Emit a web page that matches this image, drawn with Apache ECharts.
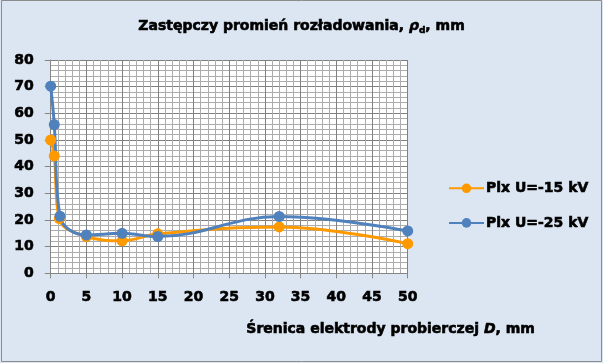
<!DOCTYPE html>
<html><head><meta charset="utf-8">
<script src="https://cdn.jsdelivr.net/npm/echarts@6/dist/echarts.min.js"></script>
<style>html,body{margin:0;padding:0;background:#dce6f2}#c{width:603px;height:363px}</style>
</head><body><div id="c"></div>
<script>
const seriesNames = ['Plx U=-15 kV', 'Plx U=-25 kV'];
const x15 = [0, 0.5, 1.2, 5, 10, 15, 32, 50];
const y15 = [50, 44, 20.5, 13.8, 12.2, 14.8, 17.4, 11.1];
const x25 = [0, 0.5, 1.3, 5, 10, 15, 32, 50];
const y25 = [70.2, 55.8, 21.4, 14.4, 15.0, 13.8, 21.3, 15.9];
const xTicks = [0, 5, 10, 15, 20, 25, 30, 35, 40, 45, 50];
const yTicks = [0, 10, 20, 30, 40, 50, 60, 70, 80];

const FONT = 'DejaVu Sans';
const HEAVY = {textBorderColor: '#000', textBorderWidth: 0.6};
const pairs = (xs, ys) => xs.map((x, i) => [x, ys[i]]);
const chart = echarts.init(document.getElementById('c'), null, {renderer: 'canvas'});
chart.setOption({
  backgroundColor: '#dce6f2',
  animation: false,
  textStyle: {fontFamily: FONT},
  title: {
    left: 'center', top: 18, padding: 0,
    text: 'Zastępczy promień rozładowania, {i|ρ}{sub|d}, mm',
    textStyle: Object.assign({
      fontFamily: FONT, fontWeight: 'bold', fontSize: 14, color: '#000',
      rich: {
        i: Object.assign({fontFamily: FONT, fontWeight: 'bold', fontStyle: 'italic', fontSize: 14, color: '#000'}, HEAVY),
        sub: Object.assign({fontFamily: FONT, fontWeight: 'bold', fontSize: 9, color: '#000', padding: [8, 0, 0, 0]}, HEAVY)
      }
    }, HEAVY)
  },
  graphic: [
    {type: 'rect', shape: {x: 1.5, y: 0.5, width: 600, height: 361}, style: {fill: 'none', stroke: '#8c8c8c', lineWidth: 1}, silent: true},
    {type: 'text', left: 246, top: 322, style: {
      text: 'Śrenica elektrody probierczej {i|D}, mm',
      font: 'bold 14px "DejaVu Sans"', fill: '#000', stroke: '#000', lineWidth: 0.6,
      rich: {i: {fontFamily: FONT, fontWeight: 'bold', fontStyle: 'italic', fontSize: 14, fill: '#000', stroke: '#000', lineWidth: 0.6}}
    }}
  ],
  legend: {
    orient: 'vertical', left: 443, top: 176, itemWidth: 35, itemHeight: 12, itemGap: 20,
    textStyle: Object.assign({fontFamily: FONT, fontWeight: 'bold', fontSize: 14, color: '#000', padding: [0, 0, 0, -3]}, HEAVY),
    data: seriesNames
  },
  grid: {left: 50.7, right: 195.3, top: 60, bottom: 89.7, show: true, backgroundColor: '#ffffff', borderWidth: 0, containLabel: false},
  xAxis: {
    type: 'value', min: 0, max: 50, interval: 5,
    axisLine: {show: true, onZero: false, lineStyle: {color: '#868686', width: 1}},
    axisTick: {show: true, length: 5, lineStyle: {color: '#868686'}},
    axisLabel: Object.assign({margin: 17, fontFamily: FONT, fontWeight: 'bold', fontSize: 14, color: '#000',
      formatter: v => xTicks.includes(v) ? String(v) : ''}, HEAVY),
    splitLine: {show: true, lineStyle: {color: '#808080', width: 1}},
    minorTick: {show: false, splitNumber: 5},
    minorSplitLine: {show: true, lineStyle: {color: '#acacac', width: 1}}
  },
  yAxis: {
    type: 'value', min: 0, max: 80, interval: 10,
    axisLine: {show: true, lineStyle: {color: '#868686', width: 1}},
    axisTick: {show: true, length: 6, lineStyle: {color: '#868686'}},
    axisLabel: Object.assign({margin: 17, fontFamily: FONT, fontWeight: 'bold', fontSize: 14, color: '#000',
      formatter: v => yTicks.includes(v) ? String(v) : ''}, HEAVY),
    splitLine: {show: true, lineStyle: {color: '#808080', width: 1}},
    minorTick: {show: false, splitNumber: 5},
    minorSplitLine: {show: true, lineStyle: {color: '#acacac', width: 1}}
  },
  series: [
    {name: seriesNames[0], type: 'line', data: pairs(x15, y15), smooth: 0.4,
     color: '#ff9900', lineStyle: {width: 3, color: '#ff9900'},
     symbol: 'circle', symbolSize: 11, itemStyle: {color: '#ff9900'}},
    {name: seriesNames[1], type: 'line', data: pairs(x25, y25), smooth: 0.4,
     color: '#4f81bd', lineStyle: {width: 3, color: '#4f81bd'},
     symbol: 'circle', symbolSize: 11, itemStyle: {color: '#4f81bd'}}
  ]
});
</script></body></html>
